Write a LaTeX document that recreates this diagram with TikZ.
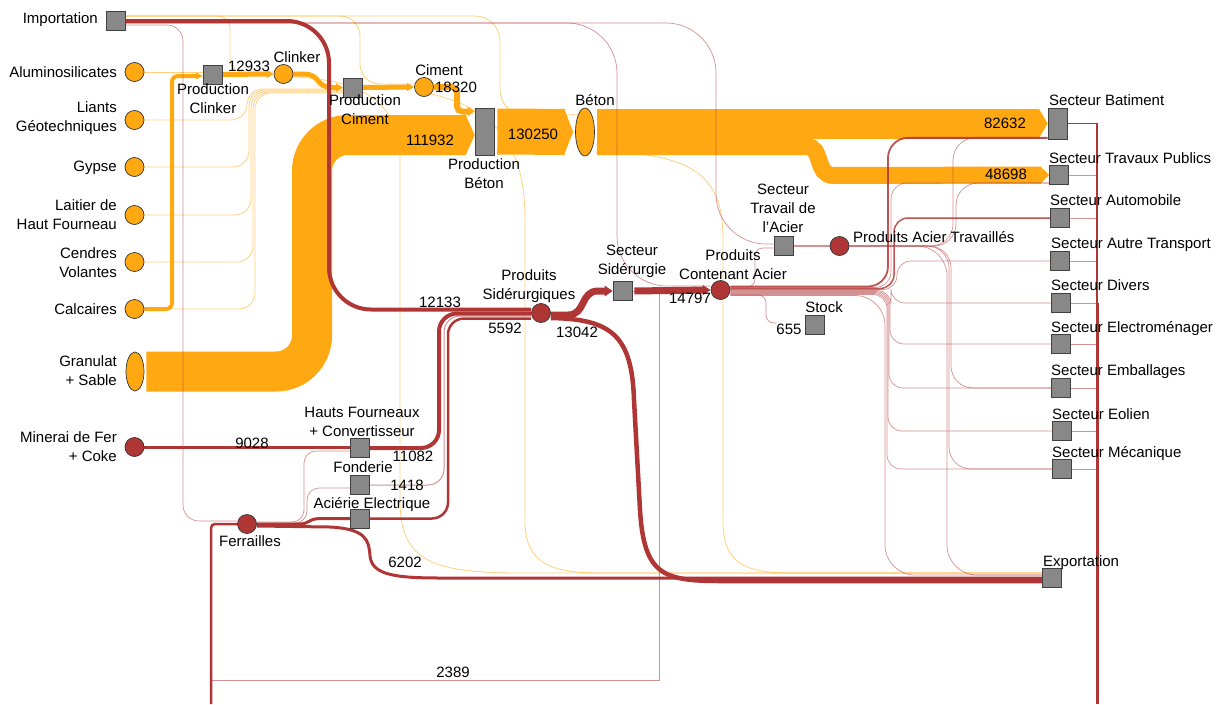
\documentclass[tikz,border=0pt]{standalone}
\usepackage{fontspec}
\setmainfont{Liberation Sans}
\usetikzlibrary{arrows.meta,backgrounds,shapes.geometric}

\definecolor{ora}{RGB}{255,168,18}
\definecolor{rouge}{RGB}{176,54,54}
\definecolor{gris}{RGB}{136,136,136}

\tikzset{
	src/.style={circle, fill=ora, draw=black!80, line width=0.7pt, minimum size=19pt, inner sep=0pt},
	acier/.style={circle, fill=rouge, draw=black!80, line width=0.7pt, minimum size=19pt, inner sep=0pt},
	poste/.style={rectangle, fill=gris, draw=black!75, line width=0.7pt, minimum width=19pt, minimum height=19pt, inner sep=0pt},
	lbl/.style={inner sep=0pt, text height=10.7pt, text depth=0pt},
	lbl2/.style={inner sep=0pt, align=center},
	bande/.style={draw=ora, -{Triangle[length=9pt 0, width=0pt 1]}},
	fo/.style={draw=ora, line width=5pt, -{Triangle[length=7pt 0, width=0pt 1.5]}},
	fino/.style={draw=ora, opacity=0.55, line width=0.8pt},
	fr/.style={draw=rouge},
	finr/.style={draw=rouge, opacity=0.55, line width=0.7pt},
}

\begin{document}
\begin{tikzpicture}[x=1pt, y=-1pt, font=\fontsize{15}{19}\selectfont]
	\useasboundingbox (0,0) rectangle (1220,704);

	% matieres premieres
	\node[poste] (imp) at (116,20.5) {};
	\node[src] (alu) at (134.5,72) {};
	\node[src] (lia) at (134.5,120) {};
	\node[src] (gyp) at (134.5,167) {};
	\node[src] (lai) at (134.5,215) {};
	\node[src] (cen) at (134.5,262) {};
	\node[src] (cal) at (134.5,309) {};
	\node[src, ellipse, minimum width=18pt, minimum height=39pt] (gra) at (135,371.5) {};
	\node[acier] (mine) at (134.5,447) {};

	% filiere beton
	\node[poste] (pcl) at (213,74.5) {};
	\node[src] (cli) at (283.5,74) {};
	\node[poste] (pci) at (353,87.5) {};
	\node[src] (cim) at (424,87) {};
	\node[poste, minimum height=47pt] (pb) at (484.5,131.5) {};
	\node[src, ellipse, minimum width=19pt, minimum height=48pt] (bet) at (585,132) {};

	% filiere acier
	\node[poste] (hf) at (360,448) {};
	\node[poste] (fon) at (360,485) {};
	\node[poste] (aci) at (360,518.5) {};
	\node[acier] (fer) at (247,524) {};
	\node[acier] (ps) at (541,313) {};
	\node[poste] (ss) at (622.5,291) {};
	\node[acier] (pca) at (720.5,290) {};
	\node[poste] (sta) at (783.5,246) {};
	\node[acier] (pat) at (839.5,246) {};
	\node[poste] (stock) at (815,325) {};

	% secteurs
	\node[poste, minimum height=31pt] (sb) at (1057.5,123.5) {};
	\node[poste] (stp) at (1059,175) {};
	\node[poste] (sau) at (1060,218) {};
	\node[poste] (sat) at (1060,261) {};
	\node[poste] (sdi) at (1061,303) {};
	\node[poste] (sel) at (1061,344) {};
	\node[poste] (sem) at (1061,388) {};
	\node[poste] (seo) at (1062,431) {};
	\node[poste] (sme) at (1062,469) {};
	\node[poste] (expo) at (1052,578) {};

	\coordinate (fbas) at (211,704);
	\coordinate (rbas) at (1097,704);
	\coordinate (sbbas) at ([yshift=1.5pt]sb.south west);
	\coordinate (stpbas) at ([yshift=-8pt]stp.west);
	\coordinate (expo1) at ([yshift=5pt]expo.west);
	\coordinate (expo2) at ([yshift=3pt]expo.west);
	\coordinate (expo3) at (expo.west);
	\coordinate (expo4) at ([yshift=-3pt]expo.west);

	% textes
	\node[lbl, anchor=east] (limp) at (98,18.5) {Importation};
	\node[lbl, anchor=east] (lalu) at (117,72) {Aluminosilicates};
	\node[lbl2, align=right, anchor=east] (llia) at (117,118.5) {Liants\\Géotechniques};
	\node[lbl, anchor=east] (lgyp) at (117,166.5) {Gypse};
	\node[lbl2, align=right, anchor=east] (llai) at (117,215) {Laitier de\\Haut Fourneau};
	\node[lbl2, align=right, anchor=east] (lcen) at (117,262.5) {Cendres\\Volantes};
	\node[lbl, anchor=east] (lcal) at (117,309) {Calcaires};
	\node[lbl2, align=right, anchor=east] (lgra) at (117,371) {Granulat\\+ Sable};
	\node[lbl2, align=right, anchor=east] (lmine) at (117,446.5) {Minerai de Fer\\+ Coke};

	\node[lbl2] (lpcl) at (213,98.5) {Production\\Clinker};
	\node[lbl] (lcli) at (297,57) {Clinker};
	\node[lbl] (v12933) at (249,66) {12933};
	\node[lbl2] (lpci) at (365,110) {Production\\Ciment};
	\node[lbl] (lcim) at (439,70) {Ciment};
	\node[lbl] (v18320) at (456,87) {18320};
	\node[lbl2] (lpb) at (484,173.5) {Production\\Béton};
	\node[lbl] (lbet) at (595,100) {Béton};
	\node[lbl] (v111932) at (430,140) {111932};
	\node[lbl] (v130250) at (533,134) {130250};
	\node[lbl] (v82632) at (1005,123) {82632};
	\node[lbl] (v48698) at (1006,174.5) {48698};

	\node[lbl2] (lhf) at (362,421.5) {Hauts Fourneaux\\+ Convertisseur};
	\node[lbl] (lfon) at (363,467) {Fonderie};
	\node[lbl] (laci) at (372,503) {Aciérie Electrique};
	\node[lbl] (lfer) at (250,541) {Ferrailles};
	\node[lbl] (v9028) at (252,443) {9028};
	\node[lbl] (v11082) at (413,456) {11082};
	\node[lbl] (v1418) at (407,485) {1418};
	\node[lbl] (v6202) at (405,562) {6202};
	\node[lbl] (v2389) at (453,672) {2389};
	\node[lbl2] (lps) at (529,286.5) {Produits\\Sidérurgiques};
	\node[lbl] (v12133) at (440,302) {12133};
	\node[lbl] (v5592) at (505,328) {5592};
	\node[lbl] (v13042) at (577,332) {13042};
	\node[lbl2] (lss) at (632,261.5) {Secteur\\Sidérurgie};
	\node[lbl2] (lpca) at (733,265) {Produits\\Contenant Acier};
	\node[lbl] (v14797) at (690,298) {14797};
	\node[lbl2] (lsta) at (783,208.5) {Secteur\\Travail de\\l’Acier};
	\node[lbl, anchor=west] (lpat) at (853,237) {Produits Acier Travaillés};
	\node[lbl] (lstock) at (824,307) {Stock};
	\node[lbl] (v655) at (789,329) {655};

	\node[lbl, anchor=west] (lsb) at (1049,100) {Secteur Batiment};
	\node[lbl, anchor=west] (lstp) at (1049,158) {Secteur Travaux Publics};
	\node[lbl, anchor=west] (lsau) at (1050,200) {Secteur Automobile};
	\node[lbl, anchor=west] (lsat) at (1051,243) {Secteur Autre Transport};
	\node[lbl, anchor=west] (lsdi) at (1051,285) {Secteur Divers};
	\node[lbl, anchor=west] (lsel) at (1051,327) {Secteur Electroménager};
	\node[lbl, anchor=west] (lsem) at (1051,370) {Secteur Emballages};
	\node[lbl, anchor=west] (lseo) at (1052,414) {Secteur Eolien};
	\node[lbl, anchor=west] (lsme) at (1052,452) {Secteur Mécanique};
	\node[lbl, anchor=west] (lexpo) at (1043,561) {Exportation};

	\begin{pgfonlayer}{background}
		% flux beton
		\draw[bande, line width=40pt, rounded corners=36pt, shorten <=2pt] (gra.east) -| (312,135) -- ([yshift=-3.5pt]pb.west);
		\draw[bande, line width=46pt, shorten <=3pt, shorten >=2pt] (pb.east) -- (bet.west);
		\draw[bande, line width=30pt, shorten <=2pt] (bet.east |- sb.west) -- (sb.west);
		\draw[bande, line width=17pt, shorten <=2pt] (bet.east |- 0,146.5) -- (806,146.5) .. controls (824,146.5) and (814,175.5) .. (834,175.5) -- (stp.west);

		\draw[fo, line width=4pt, rounded corners=6pt] (cal.east) -| (172,76) -- ([yshift=-1.5pt]pcl.west);
		\draw[fino] (alu.east) -- (alu.east -| pcl.west);
		\draw[fo] (pcl.east) -- (cli.west);
		\draw[fo] (cli.east) -- (303,74) .. controls (322,74) and (314,87.5) .. (333,87.5) -- (pci.west);
		\draw[fo] (pci.east) -- (cim.west);
		\draw[fo, line width=6pt, rounded corners=5pt] (cim.east) -| (457,111.5) -- ([yshift=20pt]pb.west);

		\foreach \s/\x/\y in {lia/247/89, gyp/249/90, lai/251/91, cen/253/92, cal/255/93}
			\draw[fino, rounded corners=16pt] (\s.east) -| (\x,\y) -- (pci.west |- 0,\y);

		\draw[fino, rounded corners=12pt] ([yshift=4.5pt]imp.east) -| (230,72) -- ([yshift=2pt]cli.west);
		\draw[fino, rounded corners=20pt] ([yshift=4.5pt]imp.east) -| (360,84) -- ([yshift=3pt]cim.west);
		\draw[fino, rounded corners=25pt] ([yshift=4.5pt]imp.east) -| (500,115) -- (bet.north west);

		\draw[fino] ([yshift=-3pt]cli.east) .. controls (360,80) and (400,100) .. (400,160) -- (400,500) .. controls (400,560) and (430,573) .. (520,573) -- (expo1);
		\draw[fino] (cim.south east) .. controls (500,110) and (525,150) .. (525,220) -- (525,520) .. controls (525,560) and (545,573) .. (600,573) -- (expo1);
		\draw[fino] ([yshift=-20pt]bet.east) .. controls (700,152) and (723,180) .. (723,240) -- (723,520) .. controls (723,560) and (740,573) .. (790,573) -- (expo1);

		% flux acier
		\draw[fr, line width=4pt, rounded corners=42pt] ([yshift=-0.5pt]imp.east) -| (329,309.5) -- ([yshift=3.5pt]ps.west);
		\draw[finr, rounded corners=16pt] ([yshift=-4.5pt]imp.east) -| (183,521) -- ([yshift=3pt]fer.west);
		\draw[finr, rounded corners=50pt] ([yshift=-2.5pt]imp.east) -| (617,286) -- ([yshift=4pt]pca.west);
		\draw[finr, rounded corners=50pt] ([yshift=-2.5pt]imp.east) -| (716,244) -- ([yshift=2pt]sta.west);

		\draw[fr, line width=3pt] (mine.east) -- (mine.east -| hf.west);
		\draw[fr, line width=4pt, rounded corners=18pt] (hf.east) -| (439,313.5) -- ([yshift=-0.5pt]ps.west);
		\draw[finr, line width=1pt, rounded corners=16pt] (fon.east) -| (444,316) -- ([yshift=-3pt]ps.west);
		\draw[fr, line width=2.5pt, rounded corners=16pt] (aci.east) -| (448,318.5) -- ([yshift=-5.5pt]ps.west);

		\draw[fr, line width=2.5pt, rounded corners=4pt] (fbas) |- (fer.west);
		\draw[finr, line width=1pt] (ss.east) -| (659,680) -- (fbas |- 0,680);
		\draw[finr, rounded corners=12pt] ([yshift=2pt]fer.east) -| (304,451) -- ([yshift=-3pt]hf.west);
		\draw[finr, rounded corners=12pt] ([yshift=1pt]fer.east) -| (307,488) -- ([yshift=-3pt]fon.west);
		\draw[fr, line width=3pt] (fer.east) -- (298,524) .. controls (312,524) and (306,518.5) .. (322,518.5) -- (aci.west);
		\draw[fr, line width=3pt] ([yshift=-2pt]fer.east) -- (330,527) .. controls (366,529) and (369,540) .. (370,556) .. controls (372,574) and (392,578) .. (440,578) -- (expo3);

		\draw[fr, line width=7pt, -{Triangle[length=8pt 0, width=0pt 1.5]}] ([yshift=-2pt]ps.east) -- (568,315) .. controls (586,315) and (580,291) .. (598,291) -- (ss.west);
		\draw[fr, line width=4.5pt] ([yshift=-5pt]ps.east) .. controls (612,319) and (632,336) .. (634,400) -- (640,510) .. controls (644,574) and (662,581) .. (720,581) -- (expo4);
		\draw[fr, line width=7pt, -{Triangle[length=8pt 0, width=0pt 1.4]}, shorten <=2pt] (ss.east) -- (pca.west);

		\draw[finr, rounded corners=8pt] ([yshift=3pt]pca.east) -| (755,248) -- ([yshift=-2pt]sta.west);
		\draw[finr, rounded corners=8pt] ([yshift=-5pt]pca.east) -| (766,323) -- (v655.west |- 0,323);
		\draw[finr, line width=1.2pt] (sta.east) -- (pat.west);

		\draw[fr, line width=1.8pt, opacity=0.85, rounded corners=20pt] ([yshift=3.5pt]pca.east) -| (888,0 |- sbbas) -- (sbbas);
		\draw[finr, rounded corners=16pt] ([yshift=2.5pt]pca.east) -| (891,0 |- stpbas) -- (stpbas);
		\draw[fr, line width=1.5pt, opacity=0.85, rounded corners=14pt] ([yshift=1.5pt]pca.east) -| (894,0 |- sau.west) -- (sau.west);
		\foreach \s/\x/\d in {sat/897/0.5, sdi/891/-0.5, sel/890/-1.5, sem/889/-2.5, seo/888/-3.5, sme/887/-4.5}
			\draw[finr, rounded corners=14pt] ([yshift=\d pt]pca.east) -| (\x,0 |- \s.west) -- (\s.west);
		\draw[finr, rounded corners=30pt] ([yshift=-5.5pt]pca.east) -| (885,0 |- expo2) -- (expo2);

		\draw[finr, rounded corners=22pt] (pat.east) -| (953,0 |- sbbas) -- (sbbas);
		\draw[finr, rounded corners=22pt] (pat.east) -| (956,0 |- stpbas) -- (stpbas);
		\foreach \s/\x in {sem/951, sme/949}
			\draw[finr, rounded corners=22pt] (pat.east) -| (\x,0 |- \s.west) -- (\s.west);
		\draw[finr, rounded corners=30pt] (pat.east) -| (947,0 |- expo2) -- (expo2);

		% retour des ferrailles
		\foreach \s in {stp,sau,sat,sdi,sel,sem,seo,sme}
			\draw[finr] (\s.east) -- (\s.east -| rbas);
		\draw[fr, line width=1.6pt] (sb.east) -| (rbas);
		\draw[fr, line width=3pt] (sdi.east -| rbas) -- (rbas);
	\end{pgfonlayer}
\end{tikzpicture}
\end{document}
